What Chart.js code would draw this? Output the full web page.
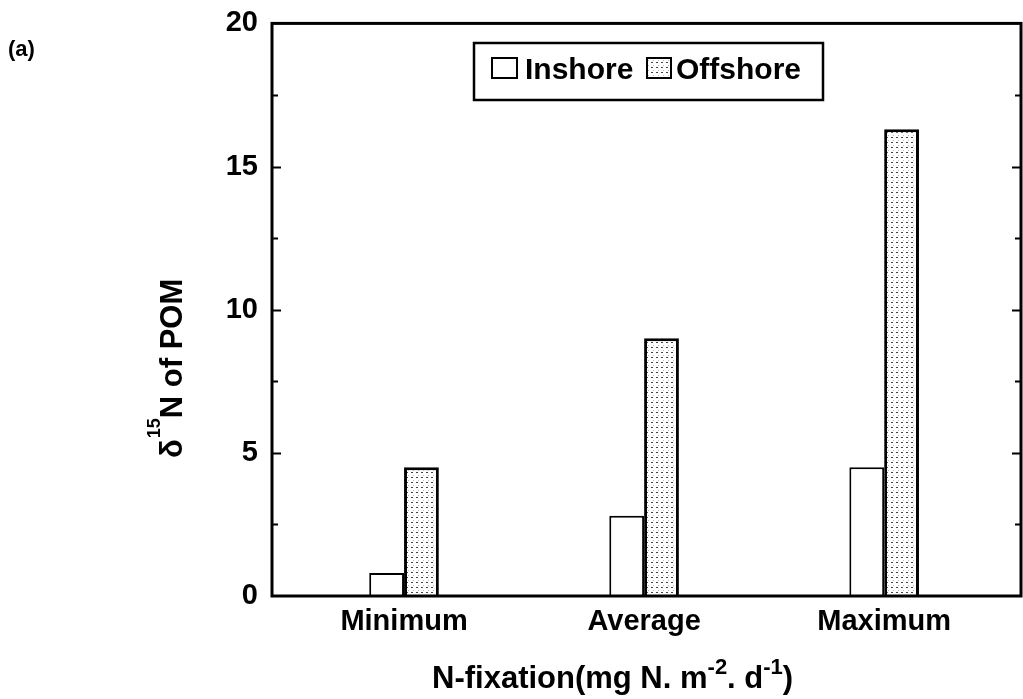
<!DOCTYPE html>
<html lang="en">
<head>
    <meta charset="UTF-8">
    <title>N-fixation vs d15N of POM</title>
    <script src="https://cdn.jsdelivr.net/npm/chart.js"></script>
    <style>
        body { margin: 0; background: #fff; }
        #wrap { position: relative; width: 1023px; height: 699px; }
    </style>
</head>
<body>
    <div id="wrap">
        <canvas id="nfixChart" width="1023" height="699"></canvas>
    </div>

    <script>
        // data
        const categories = ['Minimum', 'Average', 'Maximum'];
        const seriesNames = ['Inshore', 'Offshore'];
        const inshore = [0.8, 2.8, 4.5];
        const offshore = [4.5, 9.0, 16.3];
        const yTicks = [0, 5, 10, 15, 20];

        const FONT = '"Liberation Sans", Arial, sans-serif';

        // stippled fill for the offshore bars
        function dotPattern() {
            const c = document.createElement('canvas');
            c.width = 5; c.height = 5;
            const g = c.getContext('2d');
            g.fillStyle = '#fff';
            g.fillRect(0, 0, 5, 5);
            g.fillStyle = '#444';
            g.fillRect(1, 2, 2, 1);
            g.fillStyle = '#bbb';
            g.fillRect(3, 0, 1, 1);
            return g.createPattern(c, 'repeat');
        }
        const dots = dotPattern();

        function toPoints(vals) {
            return vals.map((v, i) => ({ x: i + 1, y: v }));
        }

        // frame, inward ticks, legend box, axis titles and panel tag
        const decorations = {
            id: 'decorations',
            afterDatasetsDraw(chart) {
                const ctx = chart.ctx;
                const a = chart.chartArea;
                const y = chart.scales.y;
                ctx.save();
                ctx.strokeStyle = '#000';
                ctx.lineWidth = 3;
                ctx.strokeRect(a.left, a.top, a.right - a.left, a.bottom - a.top);

                ctx.lineWidth = 2;
                for (let v = 2.5; v < 20; v += 2.5) {
                    const py = Math.round(y.getPixelForValue(v)) + 0.5;
                    const len = v % 5 === 0 ? 9 : 6;
                    ctx.beginPath();
                    ctx.moveTo(a.left, py); ctx.lineTo(a.left + len, py);
                    ctx.moveTo(a.right, py); ctx.lineTo(a.right - len, py);
                    ctx.stroke();
                }

                // legend
                const lx = 474, ly = 43, lw = 349, lh = 57;
                ctx.fillStyle = '#fff';
                ctx.fillRect(lx, ly, lw, lh);
                ctx.lineWidth = 2.5;
                ctx.strokeRect(lx, ly, lw, lh);
                ctx.lineWidth = 2;
                ctx.strokeRect(492, 58, 25, 20);
                ctx.fillStyle = dots;
                ctx.fillRect(647, 58, 24, 20);
                ctx.strokeRect(647, 58, 24, 20);
                ctx.fillStyle = '#000';
                ctx.font = 'bold 30px ' + FONT;
                ctx.textBaseline = 'alphabetic';
                ctx.textAlign = 'left';
                ctx.fillText(seriesNames[0], 525, 79);
                ctx.fillText(seriesNames[1], 676, 79);

                // x title with superscripts
                let x = 432;
                const base = 688;
                const parts = [
                    ['N-fixation(mg N. m', 0],
                    ['-2', 1],
                    ['. d', 0],
                    ['-1', 1],
                    [')', 0]
                ];
                parts.forEach(([t, sup]) => {
                    ctx.font = (sup ? 'bold 22px ' : 'bold 31px ') + FONT;
                    ctx.fillText(t, x, sup ? base - 14 : base);
                    x += ctx.measureText(t).width;
                });

                // y title, rotated
                ctx.save();
                ctx.translate(182, 458);
                ctx.rotate(-Math.PI / 2);
                let tx = 0;
                const yParts = [['\u03B4', 0], ['15', 1], ['N of POM', 0]];
                yParts.forEach(([t, sup]) => {
                    ctx.font = (sup ? 'bold 18px ' : 'bold 31px ') + FONT;
                    ctx.fillText(t, tx, sup ? -22 : 0);
                    tx += ctx.measureText(t).width + (sup ? 0 : 1);
                });
                ctx.restore();

                ctx.font = 'bold 22px ' + FONT;
                ctx.fillText('(a)', 8, 56);
                ctx.restore();
            }
        };

        new Chart(document.getElementById('nfixChart'), {
            type: 'bar',
            data: {
                datasets: [{
                    label: seriesNames[0],
                    data: toPoints(inshore),
                    backgroundColor: '#fff',
                    borderColor: '#000',
                    borderWidth: 2
                }, {
                    label: seriesNames[1],
                    data: toPoints(offshore),
                    backgroundColor: dots,
                    borderColor: '#000',
                    borderWidth: 3
                }]
            },
            options: {
                responsive: false,
                animation: false,
                devicePixelRatio: 1,
                barPercentage: 1,
                categoryPercentage: 0.29,
                layout: { padding: { top: 13, right: 2, left: 0, bottom: 0 } },
                plugins: {
                    legend: { display: false },
                    tooltip: { enabled: false }
                },
                scales: {
                    x: {
                        type: 'linear',
                        min: 0.45,
                        max: 3.57,
                        offset: false,
                        grid: { display: false },
                        border: { display: false },
                        afterBuildTicks: s => { s.ticks = categories.map((c, i) => ({ value: i + 1 })); },
                        afterFit: s => { s.height = 103; },
                        ticks: {
                            color: '#000',
                            padding: 1,
                            maxRotation: 0,
                            font: { family: FONT, size: 29, weight: 'bold' },
                            callback: v => categories[v - 1]
                        }
                    },
                    y: {
                        min: 0,
                        max: 20,
                        grid: { display: false },
                        border: { display: false },
                        afterBuildTicks: s => { s.ticks = yTicks.map(v => ({ value: v })); },
                        afterFit: s => { s.width = 272; },
                        ticks: {
                            color: '#000',
                            padding: 6,
                            font: { family: FONT, size: 29, weight: 'bold' }
                        }
                    }
                }
            },
            plugins: [decorations]
        });
    </script>
</body>
</html>
